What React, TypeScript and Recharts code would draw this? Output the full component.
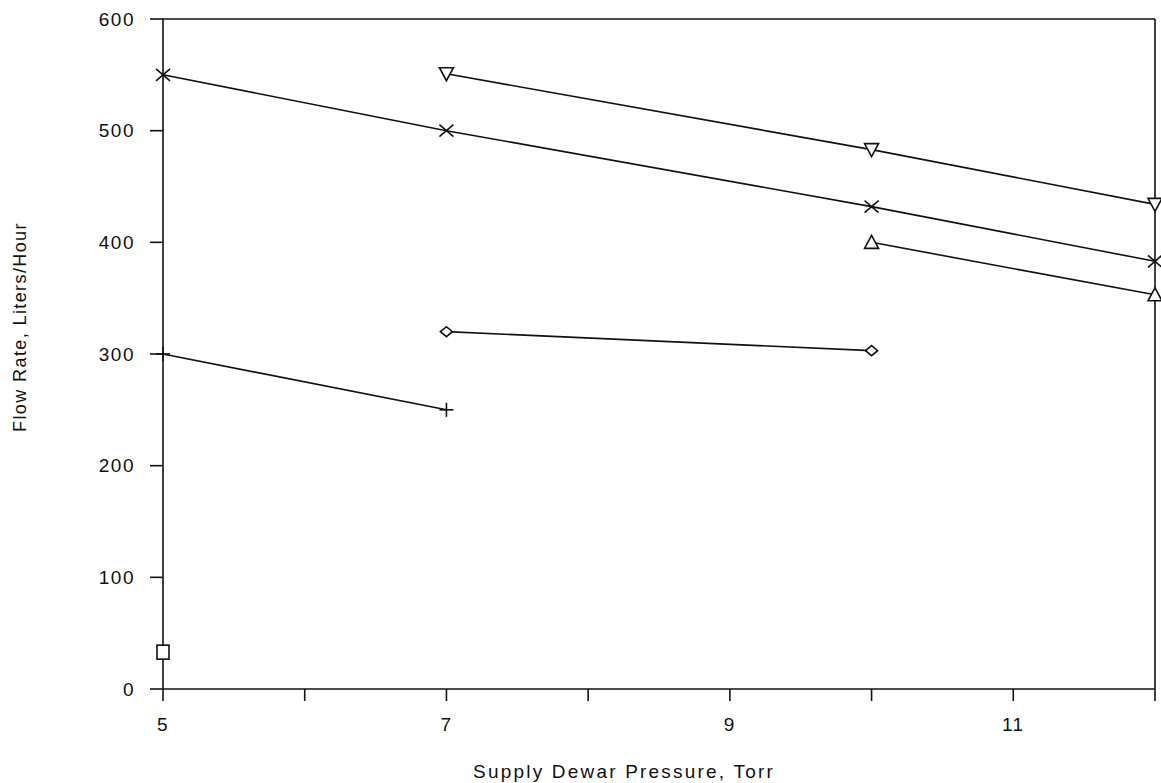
import { LineChart, Line, XAxis, YAxis, ReferenceLine } from 'recharts';

const xTicks = [5, 6, 7, 8, 9, 10, 11, 12];
const xTickLabels = [5, 7, 9, 11];
const yTicks = [0, 100, 200, 300, 400, 500, 600];

const squareSeries = [{ x: 5, y: 33 }];
const plusSeries = [{ x: 5, y: 300 }, { x: 7, y: 250 }];
const diamondSeries = [{ x: 7, y: 320 }, { x: 10, y: 303 }];
const triUpSeries = [{ x: 10, y: 400 }, { x: 12, y: 353 }];
const crossSeries = [{ x: 5, y: 550 }, { x: 7, y: 500 }, { x: 10, y: 432 }, { x: 12, y: 383 }];
const triDownSeries = [{ x: 7, y: 551 }, { x: 10, y: 483 }, { x: 12, y: 434 }];

const INK = '#111';
const FONT = '"Liberation Sans", Arial, sans-serif';

type Shape = 'square' | 'plus' | 'diamond' | 'triUp' | 'cross' | 'triDown';

function Marker({ cx, cy, shape }: { cx: number; cy: number; shape: Shape }) {
  const s = { stroke: INK, strokeWidth: 1.6, fill: '#fff' };
  switch (shape) {
    case 'square':
      return <rect x={cx - 6} y={cy - 7} width={12} height={14} {...s} />;
    case 'plus':
      return (
        <g {...s}>
          <line x1={cx - 7} y1={cy} x2={cx + 7} y2={cy} />
          <line x1={cx} y1={cy - 7} x2={cx} y2={cy + 7} />
        </g>
      );
    case 'diamond':
      return <polygon points={`${cx - 6},${cy} ${cx},${cy - 5} ${cx + 6},${cy} ${cx},${cy + 5}`} {...s} />;
    case 'triUp':
      return <polygon points={`${cx - 7},${cy + 6} ${cx + 7},${cy + 6} ${cx},${cy - 7}`} {...s} />;
    case 'triDown':
      return <polygon points={`${cx - 7},${cy - 6} ${cx + 7},${cy - 6} ${cx},${cy + 7}`} {...s} />;
    case 'cross':
      return (
        <g {...s}>
          <line x1={cx - 7} y1={cy - 6} x2={cx + 7} y2={cy + 6} />
          <line x1={cx - 7} y1={cy + 6} x2={cx + 7} y2={cy - 6} />
        </g>
      );
  }
}

const dotFor = (name: string, shape: Shape) => (p: any) => (
  <Marker key={`${name}-${p.index}`} cx={p.cx} cy={p.cy} shape={shape} />
);

const series: Array<{ name: string; data: Array<{ x: number; y: number }>; shape: Shape }> = [
  { name: 'square', data: squareSeries, shape: 'square' },
  { name: 'plus', data: plusSeries, shape: 'plus' },
  { name: 'diamond', data: diamondSeries, shape: 'diamond' },
  { name: 'triUp', data: triUpSeries, shape: 'triUp' },
  { name: 'cross', data: crossSeries, shape: 'cross' },
  { name: 'triDown', data: triDownSeries, shape: 'triDown' },
];

const tickStyle = { fontSize: 19, fill: INK, fontFamily: FONT, letterSpacing: 1.5 };

export default function App() {
  return (
    <div style={{ position: 'absolute', left: 0, top: 0, width: 1161, height: 783, background: '#fff' }}>
      <LineChart width={1161} height={783} margin={{ top: 19, right: 6, bottom: 0, left: 0 }}>
        <XAxis
          type="number"
          dataKey="x"
          domain={[5, 12]}
          ticks={xTicks}
          tickFormatter={(v) => (xTickLabels.includes(v) ? String(v) : '')}
          height={94}
          tick={tickStyle}
          tickSize={12}
          tickMargin={17}
          axisLine={{ stroke: INK, strokeWidth: 1.6 }}
          tickLine={{ stroke: INK, strokeWidth: 1.6 }}
          label={{
            content: () => (
              <text x={624} y={778} textAnchor="middle" fontSize={19} fill={INK} fontFamily={FONT} letterSpacing={2.2}>
                Supply Dewar Pressure, Torr
              </text>
            ),
          }}
        />
        <YAxis
          type="number"
          domain={[0, 600]}
          ticks={yTicks}
          width={163}
          tick={tickStyle}
          tickSize={13}
          tickMargin={15}
          axisLine={{ stroke: INK, strokeWidth: 1.6 }}
          tickLine={{ stroke: INK, strokeWidth: 1.6 }}
          label={{
            content: () => (
              <text
                x={20}
                y={327}
                transform="rotate(-90 20 327)"
                textAnchor="middle"
                dominantBaseline="central"
                fontSize={18}
                fill={INK}
                fontFamily={FONT}
                letterSpacing={1.4}
              >
                Flow Rate, Liters/Hour
              </text>
            ),
          }}
        />
        <ReferenceLine y={600} stroke={INK} strokeWidth={1.6} />
        <ReferenceLine x={12} stroke={INK} strokeWidth={1.6} />
        {series.map((s) => (
          <Line
            key={s.name}
            data={s.data}
            dataKey="y"
            stroke={INK}
            strokeWidth={1.6}
            dot={dotFor(s.name, s.shape)}
            activeDot={false}
            isAnimationActive={false}
          />
        ))}
      </LineChart>
    </div>
  );
}
